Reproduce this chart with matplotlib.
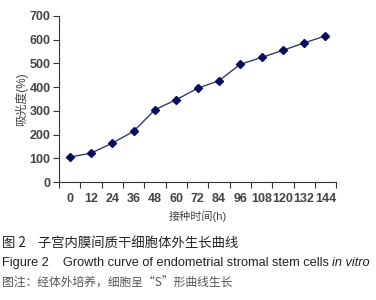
import matplotlib
matplotlib.use("Agg")
import matplotlib.pyplot as plt

plt.rcParams['font.family'] = ['Liberation Sans', 'Noto Sans CJK SC', 'DejaVu Sans']

hours = ['0', '12', '24', '36', '48', '60', '72', '84', '96', '108', '120', '132', '144']
absorbance = [105, 122, 164, 214, 305, 347, 395, 427, 496, 525, 555, 586, 616]

fig = plt.figure(figsize=(3.76, 3.0), dpi=100)
ax = fig.add_axes([0.157, 0.393, 0.737, 0.554])

pos = list(range(len(hours)))
ax.plot(pos, absorbance, color='#3a3a60', lw=1.0, marker='D', ms=4,
        markerfacecolor='#0a0a60', markeredgecolor='#0a0a60')

ax.set_xlim(-0.5, len(hours) - 0.5)
ax.set_ylim(0, 700)
ax.set_yticks(range(0, 701, 100))
ax.set_xticks([p - 0.5 for p in range(len(hours) + 1)])
ax.set_xticklabels([])
ax.set_xticks(pos, minor=True)
ax.set_xticklabels(hours, minor=True)
ax.tick_params(axis='x', which='major', length=4, width=0.8, color='#333333')
ax.tick_params(axis='x', which='minor', length=0, pad=8, labelsize=9, labelcolor='#444444')
ax.tick_params(axis='y', length=4, width=0.8, color='#333333', labelsize=9, labelcolor='#444444', pad=2)
for lab in ax.get_xticklabels(minor=True) + ax.get_yticklabels():
    lab.set_fontweight('bold')

for s in ['top', 'right']:
    ax.spines[s].set_visible(False)
for s in ['left', 'bottom']:
    ax.spines[s].set_color('#333333')
    ax.spines[s].set_linewidth(0.8)

ax.set_ylabel('吸光度(%)', fontsize=8.5, color='#444444', labelpad=1)
ax.set_xlabel('接种时间(h)', fontsize=8, color='#444444', labelpad=4)

fig.text(0.005, 0.19, '图 2    子宫内膜间质干细胞体外生长曲线', fontsize=9.6, color='#222222',
         fontweight='medium', va='center', family=['Noto Sans CJK SC'])
eng = fig.text(0.005, 0.122, 'Figure 2    Growth curve of endometrial stromal stem cells ', fontsize=9.2,
               color='#222222', va='center')
ax.annotate('in vitro', xy=(1, 0.5), xycoords=eng, va='center', ha='left',
            fontsize=9.2, color='#222222', style='italic')
fig.text(0.005, 0.057, '图注：经体外培养，细胞呈“S”形曲线生长', fontsize=8.5, color='#555555',
         va='center', family=['Noto Sans CJK SC'])

fig.savefig('out.png', dpi=100)
